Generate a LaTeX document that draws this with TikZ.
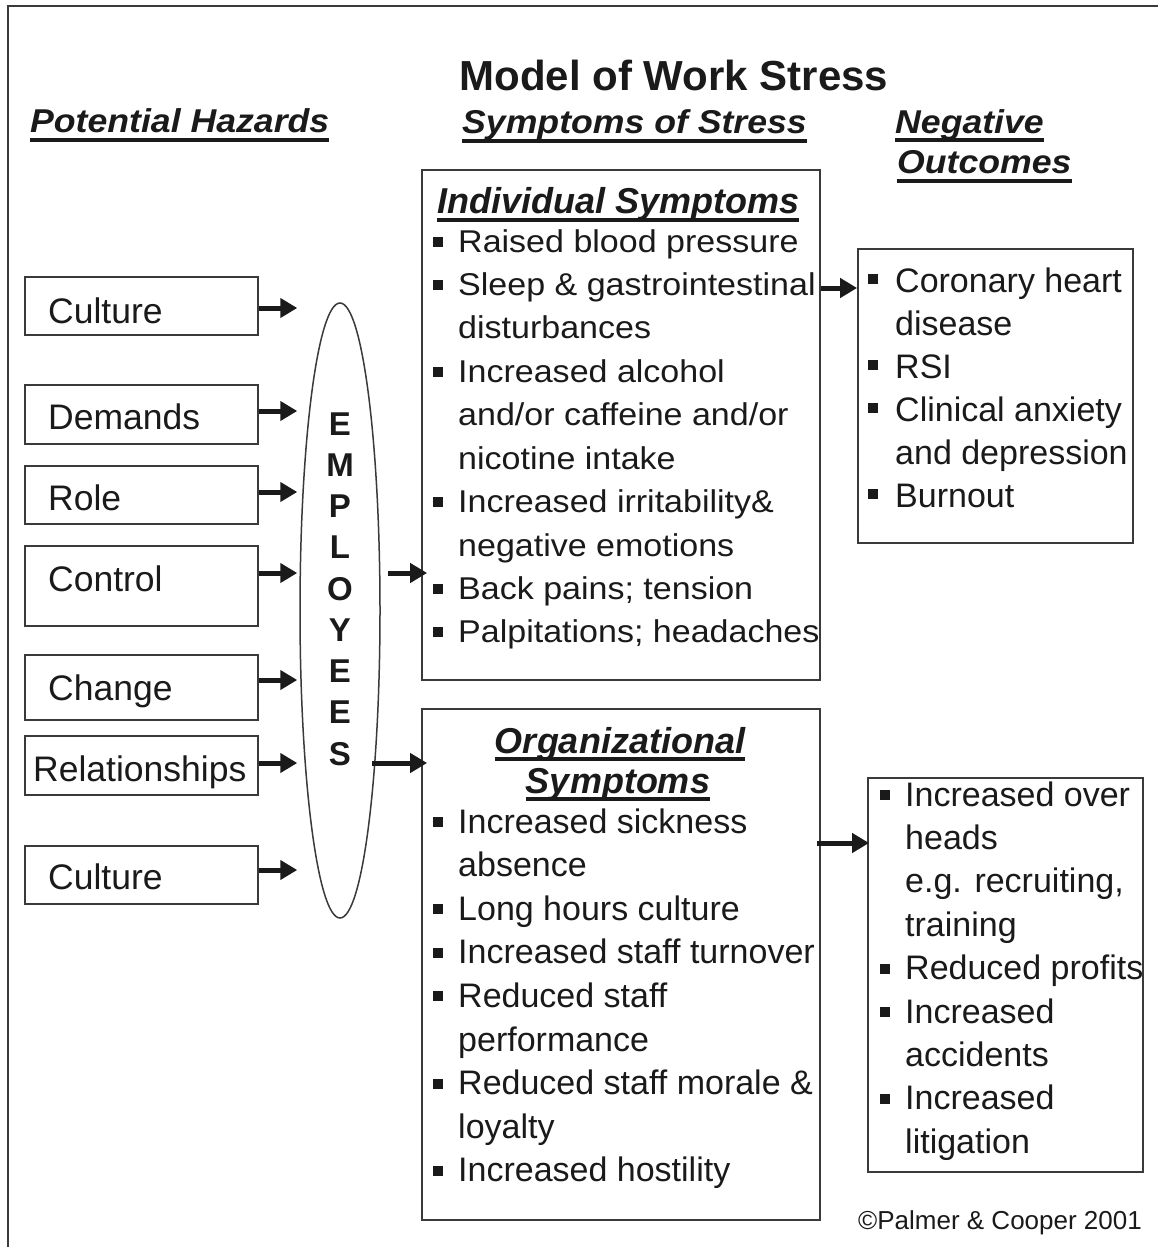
\documentclass[tikz,border=0pt]{standalone}
\usepackage{fontspec}
\setmainfont{Liberation Sans}
\newfontfamily\wide[FakeStretch=1.08]{Liberation Sans}
\usetikzlibrary{arrows.meta,shapes.geometric}
\newcommand\sls{/}
\newcommand\fs[1]{\fontsize{#1}{#1}\selectfont}
\definecolor{ink}{HTML}{1A1A1A}
\definecolor{edge}{HTML}{3A3A3A}
\begin{document}
\begin{tikzpicture}[x=1pt,y=-1pt,
  frame/.style={draw=edge, line width=2pt},
  bbox/.style={draw=edge, line width=1.8pt, rectangle, inner sep=0pt},
  arr/.style={draw=ink, line width=5pt, -{Triangle[length=17pt,width=19pt]}},
  uline/.style={draw=ink, line width=4.5pt, line cap=butt},
  txt/.style={anchor=base west, inner sep=0pt, text=ink},
  hdr/.style={txt, font=\wide\bfseries\itshape\fs{33}},
  bul/.style={fill=ink}]
\useasboundingbox (0,0) rectangle (1158,1247);
\fill[white] (0,0) rectangle (1158,1247);
\draw[frame] (8,1247) -- (8,6) -- (1158,6);

% title and column headers
\node[anchor=base, inner sep=0pt, text=ink, font=\bfseries\fs{42}] (title) at (674,90) {Model of Work Stress};
\node[hdr] (ph) at (30,132) {Potential Hazards};
\node[hdr] (ss) at (462,133) {Symptoms of Stress};
\node[hdr] (neg) at (895,133) {Negative};
\node[hdr] (outc) at (897,173) {Outcomes};
\draw[uline] ([yshift=-8pt]ph.base west) -- ([yshift=-8pt]ph.base east);
\draw[uline] ([yshift=-8pt]ss.base west) -- ([yshift=-8pt]ss.base east);
\draw[uline] ([yshift=-7pt]neg.base west) -- ([yshift=-7pt]neg.base east);
\draw[uline] ([yshift=-8pt]outc.base west) -- ([yshift=-8pt]outc.base east);

% hazard boxes
\foreach \n/\cy/\h in {1/306/58, 2/414.5/59, 3/495/58, 4/586/80, 5/687.5/65, 6/765.5/59, 7/875/58}{
  \node[bbox, minimum width=233pt, minimum height=\h pt] (h\n) at (141.5,\cy) {};
}
\foreach \t/\x/\y [count=\k] in {Culture/48/323, Demands/48/429, Role/48/510, Control/48/591, Change/48/700, Relationships/33/781, Culture/48/889}{
  \node[txt, font=\fs{35.5}] (ht\k) at (\x,\y) {\t};
}

% employees ellipse
\node[ellipse, draw=edge, line width=1.5pt, minimum width=80pt, minimum height=615pt, inner sep=0pt] (emp) at (340,610.5) {};
\foreach \l [count=\k from 0] in {E,M,P,L,O,Y,E,E,S}{
  \node[anchor=base, inner sep=0pt, text=ink, font=\bfseries\fs{33}] (emp-\k) at (340,435+41.25*\k) {\l};
}

% hazard arrows
\foreach \n/\ay in {1/308, 2/411, 3/492, 4/573, 5/680, 6/763, 7/870}{
  \coordinate (ay\n) at (0,\ay);
  \draw[arr] (h\n.east |- ay\n) -- ([xshift=-2pt]emp.west |- ay\n);
}

% symptom boxes
\node[bbox, minimum width=398pt, minimum height=510pt] (ind) at (621,425) {};
\node[bbox, minimum width=398pt, minimum height=511pt] (org) at (621,964.5) {};
\node[bbox, minimum width=275pt, minimum height=294pt] (out1) at (995.5,396) {};
\node[bbox, minimum width=275pt, minimum height=394pt] (out2) at (1005.5,975) {};

\node[txt, font=\bfseries\itshape\fs{36}] (indt) at (437,213) {Individual Symptoms};
\draw[uline, line width=4pt] ([yshift=-7pt]indt.base west) -- ([yshift=-7pt]indt.base east);
\node[anchor=base, inner sep=0pt, text=ink, font=\bfseries\itshape\fs{36}] (orgt1) at (620,753) {Organizational};
\node[anchor=base, inner sep=0pt, text=ink, font=\bfseries\itshape\fs{36}] (orgt2) at (618,793) {Symptoms};
\draw[uline, line width=4pt] ([yshift=-6pt]orgt1.base west) -- ([yshift=-6pt]orgt1.base east);
\draw[uline, line width=4pt] ([yshift=-6pt]orgt2.base west) -- ([yshift=-6pt]orgt2.base east);

% individual items
\foreach \t/\b [count=\k from 0] in {Raised blood pressure/1, Sleep \& gastrointestinal/1, disturbances/0, Increased alcohol/1, and\sls or caffeine and\sls or/0, nicotine intake/0, Increased irritability\&/1, negative emotions/0, Back pains; tension/1, Palpitations; headaches/1}{
  \node[txt, font=\wide\fs{31.5}] (ind-\k) at (458,252+43.44*\k) {\t};
  \ifnum\b=1 \fill[bul] (433,246.5+43.44*\k) rectangle ++(10,-10); \fi
}
% organizational items
\foreach \t/\b [count=\k from 0] in {Increased sickness/1, absence/0, Long hours culture/1, Increased staff turnover/1, Reduced staff/1, performance/0, Reduced staff morale \&/1, loyalty/0, Increased hostility/1}{
  \node[txt, font=\fs{34}] (org-\k) at (458,833+43.6*\k) {\t};
  \ifnum\b=1 \fill[bul] (433,827+43.6*\k) rectangle ++(10,-10); \fi
}
% outcomes 1
\foreach \t/\b [count=\k from 0] in {Coronary heart/1, disease/0, RSI/1, Clinical anxiety/1, and depression/0, Burnout/1}{
  \node[txt, font=\fs{34}] (o1-\k) at (895,292+43*\k) {\t};
  \ifnum\b=1 \fill[bul] (868,284+43*\k) rectangle ++(10,-10); \fi
}
% outcomes 2
\foreach \t/\b [count=\k from 0] in {Increased over/1, heads/0, {e.g. recruiting,}/0, training/0, Reduced profits/1, Increased/1, accidents/0, Increased/1, litigation/0}{
  \node[txt, font=\fs{34}] (o2-\k) at (905,806+43.4*\k) {\t};
  \ifnum\b=1 \fill[bul] (880,800+43.4*\k) rectangle ++(10,-10); \fi
}

% connectors
\coordinate (e1) at (388,573);
\coordinate (e2) at (372,763);
\coordinate (c3) at (0,288);
\coordinate (c4) at (0,843);
\draw[arr] (e1) -- ([xshift=6pt]e1 -| ind.west);
\draw[arr] (e2) -- ([xshift=6pt]e2 -| org.west);
\draw[arr] (ind.east |- c3) -- (out1.west |- c3);
\draw[arr] ([xshift=-4pt]org.east |- c4) -- ([xshift=2pt]out2.west |- c4);

\node[txt, font=\fs{26}] (copy) at (858,1229) {©Palmer \& Cooper 2001};
\end{tikzpicture}
\end{document}
